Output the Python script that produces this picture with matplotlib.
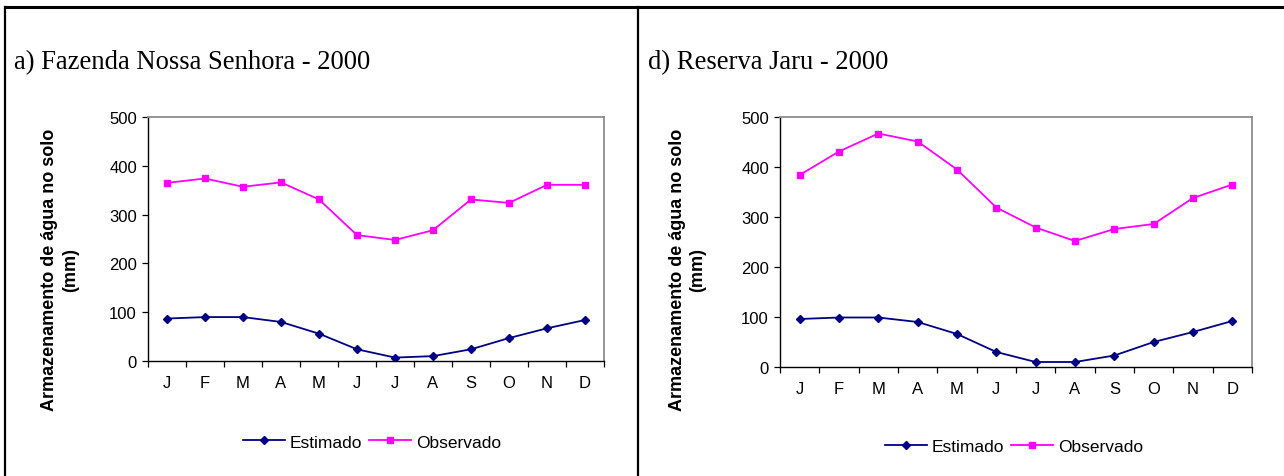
#!/usr/bin/env python3
"""Soil water storage, estimated vs observed, two sites (2000)."""

import matplotlib

matplotlib.use("Agg")
import matplotlib.pyplot as plt
from matplotlib.lines import Line2D
import numpy as np

MONTHS = ["J", "F", "M", "A", "M", "J", "J", "A", "S", "O", "N", "D"]

# a) Fazenda Nossa Senhora - 2000
FNS_ESTIMADO = [87, 90, 90, 80, 56, 24, 7, 10, 24, 47, 67, 84]
FNS_OBSERVADO = [365, 374, 357, 366, 331, 258, 248, 268, 331, 324, 361, 361]

# d) Reserva Jaru - 2000
RJ_ESTIMADO = [96, 99, 99, 90, 66, 30, 10, 10, 23, 50, 70, 92]
RJ_OBSERVADO = [384, 431, 467, 451, 395, 319, 279, 252, 276, 286, 338, 365]

EST_COLOR = "#000080"
OBS_COLOR = "#FF00FF"
SANS = ["Liberation Sans", "Arial", "DejaVu Sans"]
SERIF = ["Liberation Serif", "Times New Roman", "DejaVu Serif"]

W, H = 1284, 477


def draw_panel(fig, rect, title, title_xy, est, obs, label_x, legend_xy):
    ax = fig.add_axes(rect)
    x = np.arange(len(MONTHS)) + 0.5
    ax.plot(x, est, color=EST_COLOR, marker="D", markersize=4.5, linewidth=1.3, label="Estimado")
    ax.plot(x, obs, color=OBS_COLOR, marker="s", markersize=4.5, linewidth=1.3, label="Observado")

    ax.set_xlim(0, 12)
    ax.set_ylim(0, 500)
    ax.set_yticks(np.arange(0, 501, 100))
    ax.set_xticks(np.arange(0, 13))
    ax.set_xticklabels([])
    ax.set_xticks(x, minor=True)
    ax.set_xticklabels(MONTHS, minor=True, fontfamily=SANS, fontsize=12)
    ax.tick_params(axis="x", which="major", direction="out", length=4, width=0.9, color="black")
    ax.tick_params(axis="x", which="minor", length=0, pad=10)
    ax.tick_params(axis="y", direction="out", length=4, width=0.9, labelsize=12, pad=4)
    for lab in ax.get_yticklabels():
        lab.set_fontfamily(SANS)

    for side in ("top", "right"):
        ax.spines[side].set_color("#8C8C8C")
        ax.spines[side].set_linewidth(1.3)
    for side in ("left", "bottom"):
        ax.spines[side].set_color("black")
        ax.spines[side].set_linewidth(1.0)

    fig.text(title_xy[0] / W, 1 - title_xy[1] / H, title, fontfamily=SERIF, fontsize=19.2,
             ha="left", va="center")
    fig.text(label_x / W, 1 - 270 / H, "Armazenamento de água no solo\n(mm)", rotation=90,
             fontfamily=SANS, fontweight="bold", fontsize=13, ha="center", va="center",
             multialignment="center", linespacing=1.25)

    handles = [
        Line2D([], [], color=EST_COLOR, marker="D", markersize=4.5, linewidth=1.3),
        Line2D([], [], color=OBS_COLOR, marker="s", markersize=4.5, linewidth=1.3),
    ]
    fig.legend(handles, ["Estimado", "Observado"], loc="center",
               bbox_to_anchor=(legend_xy[0] / W, 1 - legend_xy[1] / H), ncol=2, frameon=False,
               prop={"family": SANS, "size": 12.5}, handlelength=2.4, handletextpad=0.3,
               columnspacing=0.4)
    return ax


def main():
    fig = plt.figure(figsize=(W / 100, H / 100), dpi=100)

    draw_panel(fig, [148 / W, 1 - 362 / H, (604 - 148) / W, (362 - 118) / H],
               "a) Fazenda Nossa Senhora - 2000", (14, 63),
               FNS_ESTIMADO, FNS_OBSERVADO, 60, (372, 443))
    draw_panel(fig, [780 / W, 1 - 368 / H, (1252 - 780) / W, (368 - 118) / H],
               "d) Reserva Jaru - 2000", (648, 63),
               RJ_ESTIMADO, RJ_OBSERVADO, 688, (1014, 447))

    # panel frame lines
    fig.add_artist(Line2D([5 / W, 1], [1 - 8 / H, 1 - 8 / H], color="black", linewidth=2.2))
    fig.add_artist(Line2D([5 / W, 5 / W], [0, 1 - 8 / H], color="black", linewidth=1.6))
    fig.add_artist(Line2D([638 / W, 638 / W], [0, 1 - 8 / H], color="black", linewidth=1.6))

    fig.savefig("out.png", dpi=100)
    plt.close(fig)


if __name__ == "__main__":
    main()
